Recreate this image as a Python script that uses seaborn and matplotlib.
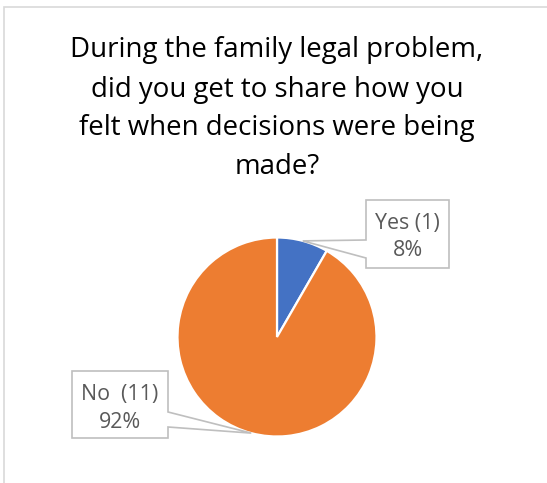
import matplotlib
matplotlib.use("Agg")
import matplotlib.pyplot as plt
from matplotlib.patches import Polygon, Rectangle
import numpy as np
import seaborn as sns

# --- data ---
categories = ["Yes", "No "]
counts = [1, 11]
title_lines = [
    "During the family legal problem,",
    "did you get to share how you",
    "felt when decisions were being",
    "made?",
]

sns.set_theme(style="white")
plt.rcParams["font.family"] = ["Open Sans", "DejaVu Sans"]
palette = sns.color_palette(["#4472C4", "#ED7D31"])

W, H = 547, 483
fig = plt.figure(figsize=(W / 100, H / 100), dpi=100)
ax = fig.add_axes([0, 0, 1, 1])

# chart-area border (only the top and left edges fall inside the canvas)
ax.add_patch(Rectangle((4, -20), W + 40, H - 7 + 20, fill=False,
                       edgecolor="#D9D9D9", linewidth=1.2, zorder=0))

# title, one baseline per line
for i, line in enumerate(title_lines):
    ax.text(277, H - (57.5 + 39 * i), line, ha="center", va="baseline",
            fontsize=19.9, color="black")

# pie
center = (277, H - 337)
radius = 99.5
total = sum(counts)
wedges, _ = ax.pie(counts, colors=palette, startangle=90, counterclock=False,
                   center=center, radius=radius, frame=True,
                   wedgeprops=dict(edgecolor="white", linewidth=1.6))
ax.set_xlim(0, W)
ax.set_ylim(0, H)
ax.set_axis_off()

# callout boxes: (x0, y_top, x1, y_bottom) in top-down pixels, pointer side
boxes = [
    dict(rect=(366, 200, 449, 268), side="left", base=(240, 258)),
    dict(rect=(72, 371, 168, 438), side="right", base=(412, 427)),
]

for cat, n, w, b in zip(categories, counts, wedges, boxes):
    frac = n / total
    mid = np.deg2rad((w.theta1 + w.theta2) / 2)
    tip = (center[0] + radius * np.cos(mid), center[1] + radius * np.sin(mid))
    x0, yt_px, x1, yb_px = b["rect"]
    yt, yb = H - yt_px, H - yb_px
    pa, pb = H - b["base"][0], H - b["base"][1]
    if b["side"] == "left":
        verts = [(x0, yt), (x1, yt), (x1, yb), (x0, yb), (x0, pb), tip, (x0, pa)]
    else:
        verts = [(x0, yt), (x1, yt), (x1, pa), tip, (x1, pb), (x1, yb), (x0, yb)]
    ax.add_patch(Polygon(verts, closed=True, facecolor="white",
                         edgecolor="#BFBFBF", linewidth=1.2, zorder=3))
    lines = [f"{cat} ({n})", f"{round(100 * frac)}%"]
    xc = (x0 + x1) / 2
    for j, txt in enumerate(lines):
        ax.text(xc, H - (yt_px + 29 + 27.5 * j), txt, ha="center",
                va="baseline", fontsize=15.4, color="#595959", zorder=4)

fig.savefig("out.png", dpi=100, facecolor="white")
